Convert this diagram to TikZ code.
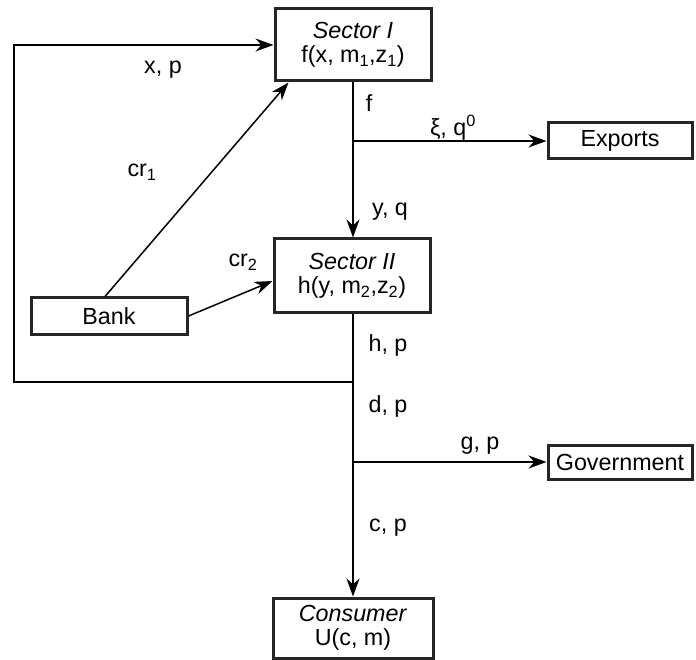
\documentclass[tikz,border=0pt]{standalone}
\usepackage{fontspec}
\setmainfont{Liberation Sans}
\usetikzlibrary{arrows.meta}

\begin{document}
\begin{tikzpicture}[x=1pt, y=-1pt,
            blockbox/.style={rectangle, draw=black!85, line width=3pt, fill=white, align=center, inner sep=2pt, font=\fontsize{23.3}{24}\selectfont},
            flow/.style={line width=1.5pt, -{Stealth[length=18pt,width=13pt]}},
            lbl/.style={font=\fontsize{23.3}{26}\selectfont}
          ]
          \useasboundingbox (0,0) rectangle (696,660);

          %Nodes
          \node[blockbox, minimum width=156pt, minimum height=72pt] at (353,45) (sec1) {\textit{Sector I}\\f(x, m\textsubscript{1},z\textsubscript{1})};
          \node[blockbox, minimum width=156pt, minimum height=74pt] at (352,276) (sec2) {\textit{Sector II}\\h(y, m\textsubscript{2},z\textsubscript{2})};
          \node[blockbox, minimum width=160pt, minimum height=60pt] at (353,628) (cons) {\textit{Consumer}\\U(c, m)};
          \node[blockbox, minimum width=144pt, minimum height=36pt] at (620,141) (exp) {Exports};
          \node[blockbox, minimum width=144pt, minimum height=34pt] at (620,462) (gov) {Government};
          \node[blockbox, minimum width=156pt, minimum height=36pt] at (109,316) (bank) {Bank};

          %Junctions
          \coordinate (jexp) at (353,141);
          \coordinate (jloop) at (353,382);
          \coordinate (jgov) at (353,462);
          \coordinate (lc1) at (14,382);
          \coordinate (lc2) at (14,45);

          %Lines
          \draw[flow] (sec1.south -| 353,0) -- (sec2.north -| 353,0);
          \draw[flow] (sec2.south -| 353,0) -- (cons.north -| 353,0);
          \draw[flow] (jexp) -- (exp.west);
          \draw[flow] (jgov) -- (gov.west);
          \draw[flow] (jloop) -- (lc1) -- (lc2) -- (sec1.west);
          \draw[flow] ([xshift=-4pt]bank.north) -- ([xshift=15pt]sec1.south west);
          \draw[flow] (bank.east) -- ([yshift=-5pt]sec2.west);

          %Labels
          \node[lbl] (lxp) at (163,70) {x, p};
          \node[lbl] (lf) at (369,103) {f};
          \node[lbl] (lxi) at (453,128) {ξ, q\textsuperscript{0}};
          \node[lbl] (lyq) at (390,212) {y, q};
          \node[lbl] (lcr1) at (142,172) {cr\textsubscript{1}};
          \node[lbl] (lcr2) at (243,262) {cr\textsubscript{2}};
          \node[lbl] (lhp) at (388,345) {h, p};
          \node[lbl] (ldp) at (388,406) {d, p};
          \node[lbl] (lgp) at (480,446) {g, p};
          \node[lbl] (lcp) at (388,528) {c, p};

        \end{tikzpicture}
\end{document}
